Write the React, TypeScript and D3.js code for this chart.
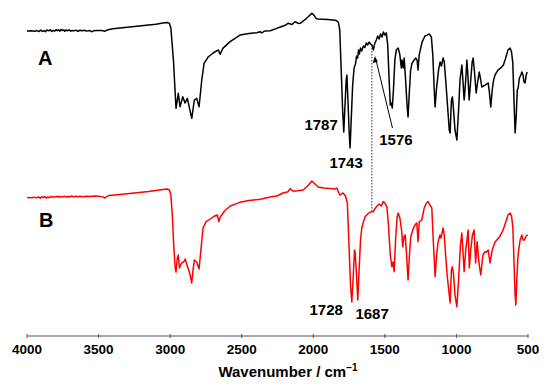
import React from 'react';
import * as d3 from 'd3';

// IR spectra, wavenumber (cm-1) vs. relative transmittance (arb. units)
const specA: [number, number][] = [
    [4000, 85.0], [3970, 85.1], [3945, 84.8], [3930, 85.3], [3915, 84.6], [3905, 85.6],
    [3895, 84.9], [3880, 85.2], [3872, 84.5], [3862, 85.7], [3850, 85.1], [3838, 85.9],
    [3828, 84.7], [3818, 85.4], [3805, 85.0], [3796, 86.0], [3788, 85.2], [3778, 85.8],
    [3770, 84.9], [3762, 86.1], [3752, 85.3], [3744, 85.9], [3736, 84.8], [3728, 85.7],
    [3718, 85.2], [3706, 85.8], [3695, 84.9], [3684, 85.4], [3672, 85.1], [3660, 85.6],
    [3645, 84.8], [3630, 85.5], [3615, 85.2], [3600, 85.5], [3585, 84.9], [3565, 85.4],
    [3550, 84.5], [3535, 85.1], [3510, 85.4], [3480, 85.3], [3455, 84.9], [3435, 85.9],
    [3400, 86.6], [3350, 87.1], [3300, 87.7], [3250, 88.2], [3200, 88.7], [3150, 89.3],
    [3100, 89.9], [3050, 90.7], [3020, 91.1], [3005, 90.4], [2995, 87.1], [2977, 64.3],
    [2959, 29.8], [2943, 40.5], [2931, 30.9], [2912, 38.1], [2896, 33.6], [2880, 36.9],
    [2849, 22.6], [2831, 35.7], [2814, 36.9], [2798, 30.9], [2779, 50.0], [2763, 61.9],
    [2733, 66.6], [2686, 70.2], [2663, 71.4], [2651, 68.4], [2632, 72.6], [2581, 77.4],
    [2512, 82.1], [2450, 83.2], [2395, 83.8], [2372, 84.5], [2360, 83.6], [2340, 85.0],
    [2300, 85.2], [2255, 86.9], [2230, 87.9], [2200, 88.9], [2176, 90.5], [2150, 89.6],
    [2127, 91.6], [2105, 90.4], [2092, 90.5], [2060, 92.9], [2030, 95.7], [2010, 97.6],
    [1995, 96.4], [1980, 93.9], [1966, 93.6], [1900, 93.2], [1862, 92.9], [1840, 92.5],
    [1825, 91.4], [1815, 85.7], [1805, 57.1], [1795, 28.6], [1787, 12.9], [1780, 28.6],
    [1770, 50.0], [1765, 53.6], [1758, 35.7], [1750, 14.3], [1743, 1.4], [1735, 21.4],
    [1725, 46.4], [1715, 58.6], [1705, 61.4], [1698, 67.1], [1690, 65.7], [1684, 71.4],
    [1678, 68.6], [1670, 72.9], [1662, 70.7], [1650, 74.3], [1640, 73.2], [1630, 76.4],
    [1620, 75.0], [1610, 77.1], [1600, 75.7], [1590, 75.0], [1580, 71.4], [1572, 75.7],
    [1560, 78.6], [1550, 81.4], [1540, 79.3], [1530, 82.9], [1520, 80.7], [1510, 84.3],
    [1500, 82.1], [1490, 83.6], [1480, 75.0], [1470, 50.0], [1462, 32.1], [1455, 33.6],
    [1448, 30.0], [1440, 42.9], [1430, 64.3], [1420, 71.4], [1407, 72.9], [1395, 67.9],
    [1385, 58.6], [1380, 64.3], [1372, 58.6], [1365, 65.7], [1355, 50.0], [1345, 32.1],
    [1338, 23.6], [1330, 39.3], [1320, 57.1], [1310, 62.1], [1295, 64.3], [1285, 65.7],
    [1275, 64.3], [1268, 57.1], [1260, 67.9], [1240, 77.1], [1220, 81.4], [1205, 82.1],
    [1190, 82.9], [1175, 80.7], [1165, 67.9], [1155, 42.9], [1149, 30.7], [1140, 42.9],
    [1125, 57.1], [1114, 62.9], [1105, 60.0], [1093, 65.7], [1085, 62.9], [1075, 50.0],
    [1060, 28.6], [1050, 14.3], [1044, 12.1], [1035, 35.7], [1028, 37.9], [1020, 28.6],
    [1010, 14.3], [997, 7.1], [985, 28.6], [975, 50.0], [962, 60.7], [955, 50.0],
    [946, 35.7], [935, 50.0], [927, 64.3], [920, 53.6], [911, 35.7], [900, 50.0],
    [890, 62.9], [883, 65.7], [875, 57.1], [862, 40.7], [855, 46.4], [841, 55.7],
    [830, 50.0], [823, 45.0], [812, 45.7], [800, 46.4], [790, 47.1], [778, 47.9],
    [770, 41.4], [760, 30.7], [750, 42.9], [740, 50.0], [730, 53.6], [710, 57.1],
    [690, 58.6], [672, 60.7], [660, 64.3], [650, 67.9], [640, 71.4], [625, 72.9],
    [615, 70.0], [606, 62.1], [598, 35.7], [590, 12.1], [582, 25.0], [575, 42.9],
    [569, 44.3], [560, 51.4], [550, 53.6], [543, 55.7], [535, 53.6], [528, 48.6],
    [520, 47.9], [513, 53.6], [506, 55.7],
];

const specB: [number, number][] = [
    [4000, 80.4], [3975, 80.2], [3950, 80.6], [3935, 80.1], [3920, 80.8], [3908, 79.8],
    [3898, 80.9], [3885, 80.3], [3875, 81.1], [3866, 79.9], [3856, 80.7], [3846, 80.2],
    [3835, 81.2], [3822, 80.4], [3810, 81.0], [3798, 80.6], [3786, 81.4], [3774, 80.5],
    [3762, 81.2], [3750, 80.7], [3738, 81.3], [3725, 80.6], [3712, 81.1], [3700, 80.9],
    [3688, 81.5], [3675, 80.8], [3660, 81.3], [3645, 80.9], [3630, 81.2], [3610, 80.9],
    [3585, 81.3], [3560, 81.1], [3530, 81.4], [3500, 81.2], [3470, 80.8], [3455, 80.0],
    [3430, 81.8], [3350, 82.5], [3250, 83.6], [3150, 84.6], [3050, 86.1], [3020, 86.4],
    [3005, 85.7], [2995, 82.1], [2985, 67.9], [2975, 46.4], [2965, 30.0], [2959, 27.1],
    [2950, 37.1], [2943, 39.3], [2935, 30.0], [2920, 33.6], [2905, 34.3], [2895, 36.4],
    [2880, 31.4], [2860, 25.0], [2849, 19.3], [2840, 28.6], [2831, 35.7], [2815, 34.3],
    [2798, 29.3], [2785, 42.9], [2770, 58.6], [2750, 62.9], [2720, 65.0], [2690, 67.1],
    [2670, 67.9], [2660, 63.1], [2650, 66.4], [2620, 70.7], [2580, 74.3], [2512, 76.9],
    [2450, 78.2], [2372, 79.1], [2300, 80.7], [2255, 81.4], [2211, 83.6], [2176, 84.5],
    [2162, 86.6], [2140, 84.9], [2110, 85.1], [2071, 85.7], [2040, 88.6], [2010, 92.1],
    [1995, 90.7], [1966, 87.9], [1930, 87.1], [1880, 86.8], [1848, 86.4], [1836, 87.1],
    [1815, 82.1], [1792, 83.6], [1775, 81.4], [1762, 76.4], [1752, 50.0], [1740, 17.9],
    [1731, 5.7], [1722, 21.4], [1712, 42.9], [1708, 41.6], [1700, 28.6], [1689, 7.1],
    [1680, 28.6], [1670, 50.0], [1661, 58.6], [1650, 62.9], [1638, 66.6], [1620, 68.6],
    [1600, 70.0], [1582, 70.2], [1560, 73.6], [1540, 75.7], [1525, 74.3], [1512, 77.4],
    [1500, 76.4], [1486, 73.8], [1475, 60.7], [1462, 39.3], [1451, 30.9], [1443, 34.3],
    [1435, 27.4], [1425, 50.0], [1415, 65.7], [1407, 69.3], [1395, 65.7], [1382, 55.9],
    [1375, 45.0], [1365, 52.9], [1358, 53.6], [1348, 39.3], [1338, 21.4], [1328, 39.3],
    [1319, 52.4], [1300, 58.6], [1285, 61.4], [1277, 62.1], [1268, 48.8], [1260, 62.9],
    [1242, 64.3], [1225, 72.9], [1210, 76.4], [1198, 77.4], [1185, 75.0], [1172, 72.9],
    [1162, 50.0], [1149, 23.8], [1138, 39.3], [1128, 48.8], [1115, 53.6], [1108, 51.4],
    [1093, 58.6], [1085, 53.6], [1078, 42.9], [1065, 25.0], [1044, 5.0], [1035, 28.6],
    [1028, 30.9], [1020, 25.0], [1010, 10.7], [997, 2.4], [985, 21.4], [972, 46.4],
    [962, 55.0], [955, 42.9], [946, 27.4], [935, 42.9], [918, 57.1], [910, 30.0],
    [900, 42.9], [888, 53.6], [876, 57.1], [866, 33.6], [855, 48.8], [845, 35.7],
    [830, 25.0], [815, 39.3], [800, 41.6], [790, 41.4], [778, 42.9], [765, 33.6],
    [750, 42.9], [730, 48.6], [718, 50.0], [700, 52.1], [674, 57.1], [655, 62.9],
    [640, 67.9], [625, 69.3], [615, 67.1], [606, 59.5], [598, 35.7], [590, 10.7],
    [585, 3.6], [578, 21.4], [572, 35.7], [565, 42.9], [555, 50.0], [543, 53.6],
    [535, 50.0], [525, 50.0], [513, 52.9], [502, 53.6],
];

const xTicks = [4000, 3500, 3000, 2500, 2000, 1500, 1000, 500];
const peaksA = ['1787', '1743', '1576'];
const peaksB = ['1728', '1687'];
const guideWavenumber = 1591;

const W = 550;
const H = 389;
const FONT = '"Liberation Sans", Arial, Helvetica, sans-serif';

export default function App() {
    const x = d3.scaleLinear().domain([4000, 500]).range([27, 528]);
    const yA = d3.scaleLinear().domain([0, 100]).range([150, 10]);
    const yB = d3.scaleLinear().domain([0, 100]).range([310, 170]);
    const axisY = 336;

    const lineA = d3.line<[number, number]>().x((d) => x(d[0])).y((d) => yA(d[1]));
    const lineB = d3.line<[number, number]>().x((d) => x(d[0])).y((d) => yB(d[1]));

    // label text positions, offset from the peaks they name
    const px = (s: string) => x(Number(s));

    return (
        <div style={{ position: 'absolute', left: 0, top: 0 }}>
            <svg width={W} height={H} style={{ display: 'block', background: '#fff' }} fontFamily={FONT}>
                <path d={lineA(specA) ?? ''} fill="none" stroke="#000" strokeWidth={1.5} strokeLinejoin="round" />
                <path d={lineB(specB) ?? ''} fill="none" stroke="#ff0000" strokeWidth={1.5} strokeLinejoin="round" />

                {/* guide line linking the two spectra */}
                <line
                    x1={x(guideWavenumber)} x2={x(guideWavenumber)}
                    y1={yA(75)} y2={yB(70)}
                    stroke="#333" strokeWidth={1} strokeDasharray="1.5,1.5"
                />

                <text x={38} y={65} fontSize={20} fontWeight={700}>A</text>
                <text x={39} y={227} fontSize={20} fontWeight={700}>B</text>

                <g fontSize={15} fontWeight={700}>
                    <text x={px(peaksA[0]) - 6} y={130} textAnchor="end">{peaksA[0]}</text>
                    <text x={px(peaksA[1]) - 4} y={168} textAnchor="middle">{peaksA[1]}</text>
                    <text x={px(peaksA[2]) + 22} y={145} textAnchor="middle">{peaksA[2]}</text>
                    <text x={px(peaksB[0]) - 26} y={315} textAnchor="middle">{peaksB[0]}</text>
                    <text x={px(peaksB[1]) + 14} y={319} textAnchor="middle">{peaksB[1]}</text>
                </g>

                {/* arrow to the 1576 shoulder */}
                <line x1={px(peaksA[2]) + 18.5} y1={128} x2={px(peaksA[2]) + 2.5} y2={62} stroke="#000" strokeWidth={1} />
                <path
                    d={`M${px(peaksA[2]) + 1},${56} l${-2.2},${7} l${5},${-1.2} Z`}
                    fill="#000"
                />

                {/* x axis */}
                <line x1={x(4000)} x2={x(500)} y1={axisY} y2={axisY} stroke="#555" strokeWidth={1} />
                {xTicks.map((t) => (
                    <g key={t} transform={`translate(${x(t)},${axisY})`}>
                        <line y1={-2} y2={2} stroke="#555" strokeWidth={1} />
                        <text y={18} textAnchor="middle" fontSize={13.5} fontWeight={700}>{t}</text>
                    </g>
                ))}
                <text x={288} y={377} textAnchor="middle" fontSize={15} fontWeight={700}>
                    Wavenumber / cm
                    <tspan dy={-6} fontSize={10}>−1</tspan>
                </text>
            </svg>
        </div>
    );
}
